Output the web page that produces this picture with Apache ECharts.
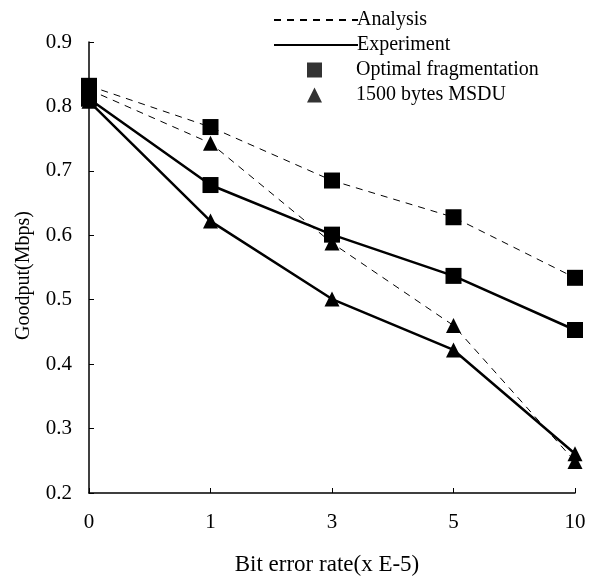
<!DOCTYPE html>
<html><head><meta charset="utf-8">
<script src="https://cdn.jsdelivr.net/npm/echarts@6/dist/echarts.min.js"></script>
<style>html,body{margin:0;padding:0;background:#fff}#c{width:594px;height:581px}</style>
</head><body><div id="c"></div>
<script>
const categories = ['0', '1', '3', '5', '10'];
const analysisOptimal = [0.832, 0.768, 0.685, 0.628, 0.534];
const analysis1500 = [0.826, 0.743, 0.588, 0.460, 0.249];
const experimentOptimal = [0.812, 0.678, 0.601, 0.537, 0.453];
const experiment1500 = [0.808, 0.622, 0.501, 0.422, 0.261];
const yTicks = [0.2, 0.3, 0.4, 0.5, 0.6, 0.7, 0.8, 0.9];

const font = 'Liberation Serif';
const chart = echarts.init(document.getElementById('c'));
const dash = [7, 6];
chart.setOption({
  animation: false,
  backgroundColor: '#fff',
  textStyle: {fontFamily: font, color: '#000'},
  grid: {left: 89, right: 19, top: 42, bottom: 88},
  legend: [{
    orient: 'vertical', left: 268, top: 5,
    itemWidth: 84, itemHeight: 14, itemGap: 5,
    textStyle: {fontFamily: font, fontSize: 20, color: '#000', padding: [0, 0, 0, -6]},
    data: [{name: 'Analysis', itemStyle: {opacity: 0}}, {name: 'Experiment', itemStyle: {opacity: 0}}],
    selectedMode: false
  }, {
    orient: 'vertical', left: 302, top: 55,
    itemWidth: 15, itemHeight: 15, itemGap: 5,
    textStyle: {fontFamily: font, fontSize: 20, color: '#000', padding: [0, 0, 0, 29]},
    data: ['Optimal fragmentation', '1500 bytes MSDU'],
    selectedMode: false
  }],
  xAxis: {
    type: 'category', data: categories, boundaryGap: false,
    axisLine: {lineStyle: {color: '#000', width: 1.5}},
    axisTick: {inside: true, length: 5, lineStyle: {color: '#000'}},
    axisLabel: {fontFamily: font, fontSize: 21, color: '#000', margin: 19},
    name: 'Bit error rate(x E-5)', nameLocation: 'middle', nameGap: 60,
    nameTextStyle: {fontFamily: font, fontSize: 23, color: '#000', padding: [0, 10, 0, 0]}
  },
  yAxis: {
    type: 'value', min: 0.2, max: 0.9, interval: 0.1,
    splitLine: {show: false},
    axisLine: {show: true, lineStyle: {color: '#000', width: 1.5}},
    axisTick: {show: true, inside: true, length: 5, lineStyle: {color: '#000'}},
    axisLabel: {fontFamily: font, fontSize: 21, color: '#000', margin: 17,
      formatter: v => { const t = yTicks.find(x => Math.abs(x - v) < 1e-6); return t !== undefined ? t.toFixed(1) : ''; }},
    name: 'Goodput(Mbps)', nameLocation: 'middle', nameGap: 55,
    nameTextStyle: {fontFamily: font, fontSize: 20, color: '#000', padding: [0, 16, 0, 0]}
  },
  series: [
    {name: 'Analysis', type: 'line', data: [], symbol: 'none', lineStyle: {color: '#000', width: 1, type: dash}, itemStyle: {color: '#000'}},
    {name: 'Experiment', type: 'line', data: [], symbol: 'none', lineStyle: {color: '#000', width: 2.5}, itemStyle: {color: '#000'}},
    {name: 'Optimal fragmentation', type: 'scatter', data: [], symbol: 'rect', symbolSize: 15, itemStyle: {color: '#000'}},
    {name: '1500 bytes MSDU', type: 'scatter', data: [], symbol: 'triangle', symbolSize: 13, itemStyle: {color: '#000'}},
    {type: 'line', data: analysisOptimal, symbol: 'rect', symbolSize: 16, lineStyle: {color: '#000', width: 1, type: dash}, itemStyle: {color: '#000'}, z: 3},
    {type: 'line', data: analysis1500, symbol: 'triangle', symbolSize: 15, lineStyle: {color: '#000', width: 1, type: dash}, itemStyle: {color: '#000'}, z: 3},
    {type: 'line', data: experimentOptimal, symbol: 'rect', symbolSize: 16, lineStyle: {color: '#000', width: 2.5}, itemStyle: {color: '#000'}, z: 4},
    {type: 'line', data: experiment1500, symbol: 'triangle', symbolSize: 15, lineStyle: {color: '#000', width: 2.5}, itemStyle: {color: '#000'}, z: 4}
  ]
});
</script></body></html>
